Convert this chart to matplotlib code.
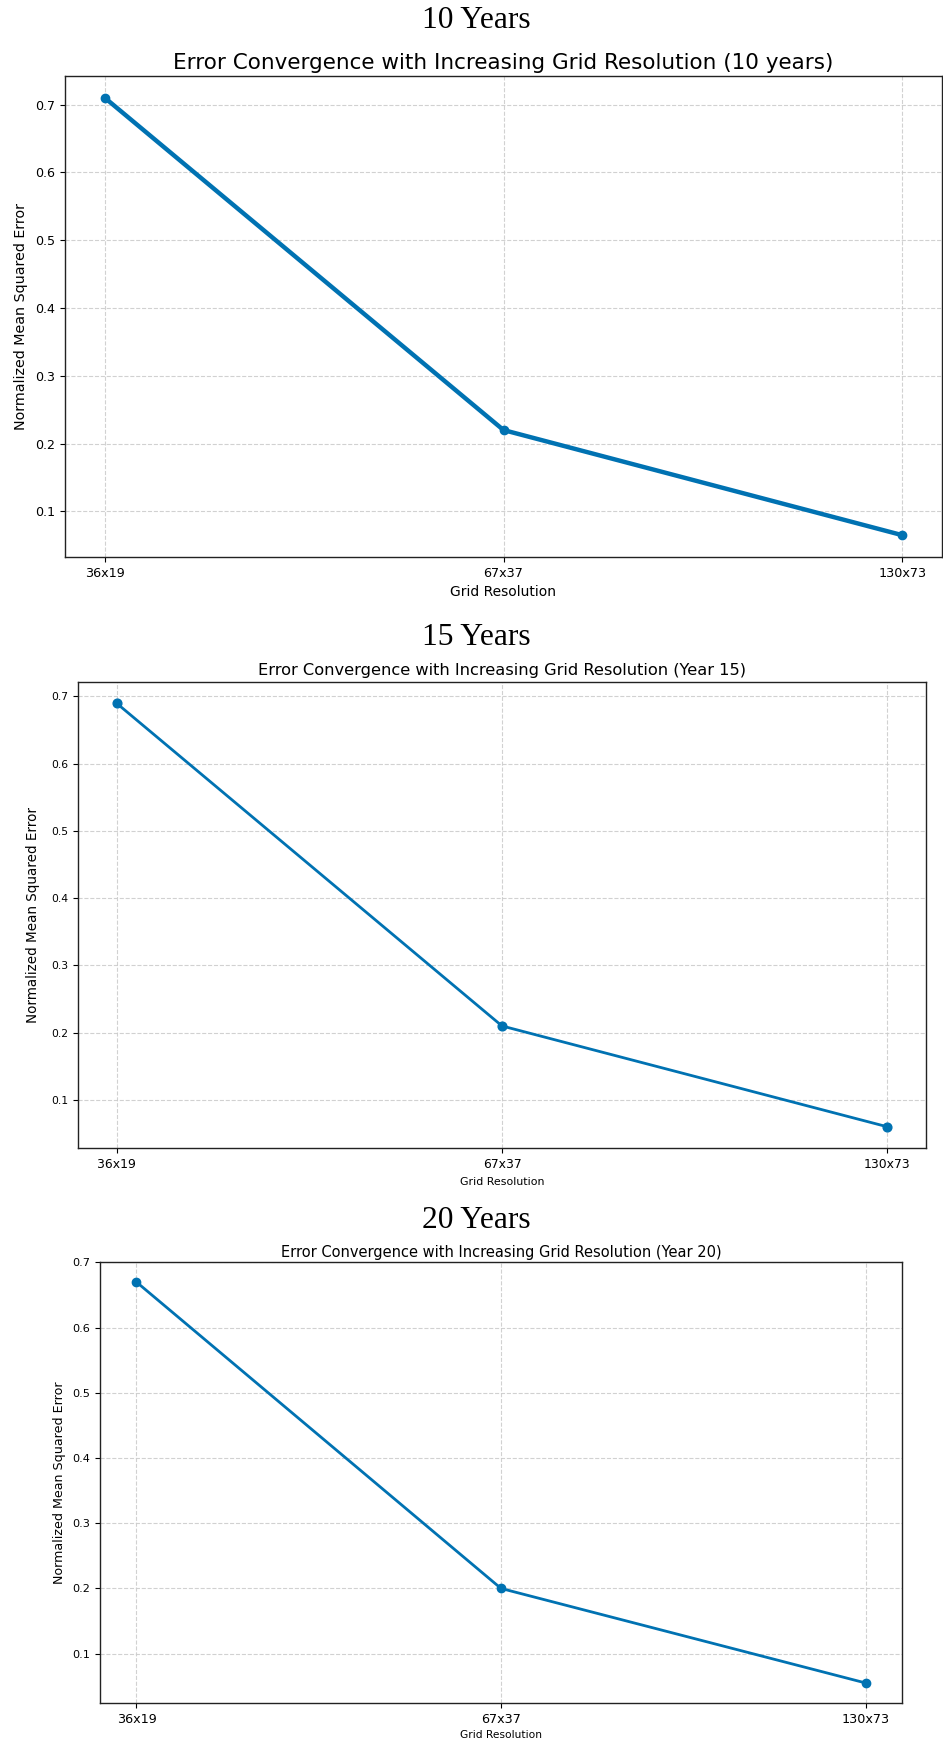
import matplotlib
matplotlib.use("Agg")
import matplotlib.pyplot as plt

# ---- data ----
categories = ["36x19", "67x37", "130x73"]
nmse_10 = [0.71, 0.22, 0.065]
nmse_15 = [0.69, 0.21, 0.06]
nmse_20 = [0.67, 0.20, 0.055]
headers = ["10 Years", "15 Years", "20 Years"]
titles = [
    "Error Convergence with Increasing Grid Resolution (10 years)",
    "Error Convergence with Increasing Grid Resolution (Year 15)",
    "Error Convergence with Increasing Grid Resolution (Year 20)",
]
xlabel = "Grid Resolution"
ylabel = "Normalized Mean Squared Error"

W, H, DPI = 943, 1742, 100
fig = plt.figure(figsize=(W / DPI, H / DPI), dpi=DPI)
plt.rcParams["font.family"] = ["DejaVu Sans"]

def pt(px):
    return px * 72.0 / DPI

def add_ax(l, r, t, b):
    return fig.add_axes([l / W, 1 - b / H, (r - l) / W, (b - t) / H])

color = "#0072B2"

panels = [
    dict(box=(65, 942, 76, 557), hy=21, ty=63, xly=592, ylx=21,
         title_px=21.5, xt_px=12.8, yt_px=12.6, xl_px=13.9, yl_px=14.3,
         lw=3.2, ms=6.0, vals=nmse_10),
    dict(box=(78, 926, 682, 1148), hy=637, ty=670, xly=1182, ylx=33,
         title_px=16.3, xt_px=12.4, yt_px=10.8, xl_px=11.0, yl_px=13.5,
         lw=2.0, ms=6.3, vals=nmse_15),
    dict(box=(100, 902, 1262, 1703), hy=1220, ty=1252, xly=1735, ylx=60,
         title_px=14.6, xt_px=12.8, yt_px=11.3, xl_px=10.6, yl_px=12.6,
         lw=2.0, ms=6.0, vals=nmse_20),
]

for i, p in enumerate(panels):
    l, r, t, b = p["box"]
    ax = add_ax(l, r, t, b)
    x = list(range(len(categories)))
    ax.plot(x, p["vals"], marker="o", color=color, linewidth=p["lw"], markersize=p["ms"])
    ax.set_xticks(x)
    ax.set_xticklabels(categories)
    ax.tick_params(axis="x", labelsize=pt(p["xt_px"]))
    ax.tick_params(axis="y", labelsize=pt(p["yt_px"]))
    ax.grid(True, linestyle="--", color="#cccccc", linewidth=0.8, alpha=0.9)
    # subplot title centred over the axes
    ax.text(0.5, (b - p["ty"]) / (b - t), titles[i], transform=ax.transAxes,
            ha="center", va="center", fontsize=pt(p["title_px"]))
    ax.set_xlabel(xlabel, fontsize=pt(p["xl_px"]), va="center")
    ax.xaxis.set_label_coords(0.5, (b - p["xly"]) / (b - t))
    ax.set_ylabel(ylabel, fontsize=pt(p["yl_px"]), va="center")
    ax.yaxis.set_label_coords((p["ylx"] - l) / (r - l), 0.5)
    for s in ax.spines.values():
        s.set_linewidth(1.0)
        s.set_color("#222222")
    fig.text(476 / W, 1 - p["hy"] / H, headers[i], ha="center", va="center",
             fontsize=pt(31.5), family=["Liberation Serif", "DejaVu Serif"])

fig.savefig("out.png", dpi=DPI)
